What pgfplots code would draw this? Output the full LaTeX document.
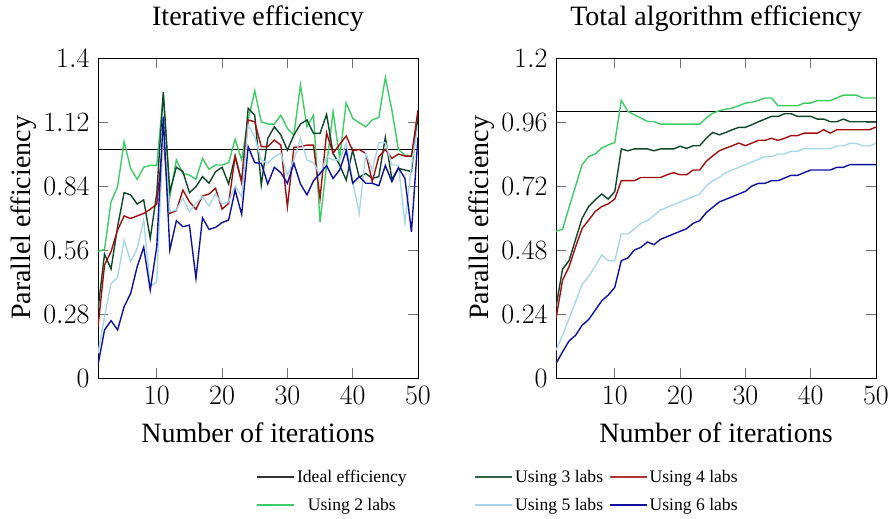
\RequirePackage{fix-cm}
\documentclass[border=0pt]{standalone}
\usepackage[no-math]{fontspec}
\setmainfont{Liberation Serif}
\usepackage{pgfplots}
\usepackage{pgfplotstable}
\pgfplotsset{compat=1.18}

\definecolor{cgreen}{RGB}{60,205,100}
\definecolor{cdkgreen}{RGB}{15,70,40}
\definecolor{cred}{RGB}{160,15,15}
\definecolor{clblue}{RGB}{170,215,232}
\definecolor{cblue}{RGB}{15,15,160}

% per-iteration efficiency
\pgfplotstableread{
x  l2    l3    l4    l5    l6
1  0.553 0.300 0.225 0.108 0.057
2  0.563 0.542 0.494 0.268 0.210
3  0.771 0.477 0.553 0.414 0.251
4  0.837 0.662 0.647 0.440 0.210
5  1.034 0.811 0.709 0.604 0.312
6  0.917 0.801 0.698 0.509 0.370
7  0.869 0.761 0.709 0.567 0.487
8  0.922 0.779 0.720 0.691 0.572
9  0.930 0.611 0.738 0.400 0.385
10 0.930 0.808 0.761 0.421 0.575
11 1.240 1.250 1.050 1.080 1.143
12 0.793 0.815 0.720 0.728 0.560
13 0.954 0.922 0.732 0.735 0.688
14 0.895 0.903 0.822 0.786 0.662
15 0.888 0.811 0.771 0.728 0.669
16 0.869 0.837 0.738 0.764 0.436
17 0.961 0.881 0.796 0.793 0.701
18 0.913 0.852 0.805 0.752 0.650
19 0.932 0.903 0.830 0.805 0.659
20 0.932 0.922 0.739 0.761 0.680
21 0.942 0.849 0.764 0.771 0.691
22 1.044 0.971 0.971 0.840 0.822
23 0.954 0.859 0.855 0.793 0.716
24 1.129 1.180 1.129 1.107 1.012
25 1.257 1.150 1.121 1.056 0.942
26 1.121 0.844 1.012 0.954 0.939
27 1.111 1.048 1.012 0.939 0.849
28 1.111 1.099 1.041 0.968 0.922
29 1.150 1.063 1.019 0.983 0.898
30 1.092 0.997 0.749 0.888 0.852
31 1.063 1.063 1.009 0.954 0.939
32 1.282 1.111 1.012 1.048 0.849
33 1.099 1.129 1.019 0.954 0.801
34 1.150 1.070 1.019 0.942 0.863
35 0.681 1.070 0.786 0.888 0.895
36 0.930 1.153 1.073 0.968 0.929
37 1.165 0.983 0.983 0.954 0.873
38 0.961 0.932 1.022 0.954 0.910
39 1.204 0.866 1.059 1.027 0.994
40 1.136 0.997 0.994 0.859 0.852
41 1.117 0.878 1.000 0.720 0.881
42 1.099 0.895 0.983 0.983 0.852
43 1.129 0.873 0.859 0.910 0.852
44 1.140 0.881 0.968 1.029 0.841
45 1.315 1.053 1.000 1.029 0.930
46 1.172 0.869 0.961 0.932 0.859
47 1.000 0.917 0.980 0.932 0.920
48 0.975 0.910 0.971 0.677 0.873
49 0.968 0.903 0.971 0.930 0.640
50 1.130 1.150 1.172 1.107 1.053
}\iterdata

% cumulative efficiency
\pgfplotstableread{
x  l2    l3    l4    l5    l6
1  0.551 0.267 0.223 0.104 0.054
2  0.557 0.408 0.367 0.160 0.098
3  0.640 0.440 0.417 0.223 0.139
4  0.720 0.520 0.492 0.286 0.160
5  0.800 0.599 0.561 0.351 0.198
6  0.830 0.643 0.592 0.380 0.219
7  0.840 0.668 0.624 0.420 0.254
8  0.862 0.690 0.643 0.461 0.289
9  0.874 0.671 0.653 0.440 0.311
10 0.883 0.699 0.671 0.440 0.340
11 1.041 0.859 0.740 0.540 0.440
12 1.000 0.852 0.740 0.540 0.450
13 0.987 0.859 0.740 0.559 0.480
14 0.975 0.859 0.752 0.580 0.490
15 0.962 0.859 0.752 0.590 0.510
16 0.962 0.852 0.752 0.609 0.500
17 0.952 0.859 0.752 0.630 0.520
18 0.952 0.859 0.762 0.640 0.530
19 0.952 0.859 0.770 0.650 0.540
20 0.952 0.869 0.762 0.660 0.550
21 0.952 0.861 0.762 0.670 0.560
22 0.952 0.871 0.780 0.680 0.580
23 0.952 0.871 0.780 0.690 0.590
24 0.975 0.899 0.812 0.720 0.620
25 0.993 0.921 0.833 0.740 0.640
26 1.002 0.912 0.852 0.752 0.660
27 1.008 0.921 0.862 0.770 0.670
28 1.012 0.931 0.871 0.780 0.680
29 1.021 0.940 0.881 0.790 0.690
30 1.031 0.940 0.871 0.800 0.700
31 1.034 0.950 0.881 0.810 0.720
32 1.041 0.961 0.891 0.820 0.730
33 1.050 0.971 0.891 0.830 0.730
34 1.050 0.981 0.899 0.830 0.740
35 1.021 0.981 0.891 0.840 0.740
36 1.021 0.991 0.899 0.840 0.750
37 1.021 0.991 0.909 0.850 0.760
38 1.021 0.981 0.909 0.850 0.760
39 1.031 0.981 0.918 0.860 0.770
40 1.031 0.981 0.918 0.860 0.780
41 1.040 0.971 0.918 0.860 0.780
42 1.040 0.971 0.931 0.860 0.780
43 1.040 0.961 0.918 0.860 0.780
44 1.050 0.961 0.931 0.870 0.790
45 1.061 0.971 0.931 0.870 0.790
46 1.061 0.961 0.931 0.880 0.800
47 1.061 0.961 0.931 0.880 0.800
48 1.050 0.961 0.931 0.870 0.800
49 1.050 0.961 0.931 0.870 0.800
50 1.050 0.961 0.941 0.880 0.800
}\totaldata

\pgfplotsset{
  eff/.style={
    scale only axis, width=320bp, height=320bp,
    xmin=1, xmax=50, ymin=0,
    xtick={10,20,30,40,50},
    tick label style={font=\fontsize{28bp}{34bp}\selectfont},
    xticklabel style={yshift=-5bp},
    yticklabel style={xshift=-5bp},
    label style={font=\fontsize{28bp}{34bp}\selectfont},
    xlabel style={yshift=-11bp},
    title style={font=\fontsize{28bp}{34bp}\selectfont, yshift=17bp},
    major tick length=10bp,
    tick style={black!55, line width=0.9bp},
    axis line style={line width=0.9bp},
    xlabel={Number of iterations},
    ylabel={Parallel efficiency},
    every axis plot/.append style={line width=1.4bp},
  }
}

\begin{document}
\begin{tikzpicture}
\begin{axis}[eff, at={(0bp,0bp)}, anchor=south west,
    ymax=1.4, ytick={0,0.28,0.56,0.84,1.12,1.4},
    title={Iterative efficiency}]
  \addplot[black, forget plot] coordinates {(1,1) (50,1)};
  \addplot[cgreen, forget plot] table[x=x, y=l2] {\iterdata};
  \addplot[cdkgreen, forget plot] table[x=x, y=l3] {\iterdata};
  \addplot[cred, forget plot] table[x=x, y=l4] {\iterdata};
  \addplot[clblue, forget plot] table[x=x, y=l5] {\iterdata};
  \addplot[cblue, forget plot] table[x=x, y=l6] {\iterdata};
\end{axis}
\begin{axis}[eff, at={(458bp,0bp)}, anchor=south west,
    ymax=1.2, ytick={0,0.24,0.48,0.72,0.96,1.2},
    title={Total algorithm efficiency},
    legend columns=3,
    legend cell align=center,
    legend image code/.code={\draw[#1] (0bp,0bp) -- (37bp,0bp);},
    legend style={draw=none, fill=none, at={(-0.181,-0.353)}, anchor=center,
      font=\fontsize{17.6bp}{21bp}\selectfont,
      /tikz/row sep=10bp,
      /tikz/column 2/.style={column sep=66bp},
      /tikz/column 4/.style={column sep=4bp}}]
  \addplot[black, forget plot] coordinates {(1,1) (50,1)};
  \addplot[cgreen, forget plot] table[x=x, y=l2] {\totaldata};
  \addplot[cdkgreen, forget plot] table[x=x, y=l3] {\totaldata};
  \addplot[cred, forget plot] table[x=x, y=l4] {\totaldata};
  \addplot[clblue, forget plot] table[x=x, y=l5] {\totaldata};
  \addplot[cblue, forget plot] table[x=x, y=l6] {\totaldata};
  \addlegendimage{black!80, line width=1.5bp}
  \addlegendentry{Ideal efficiency}
  \addlegendimage{cdkgreen!85, line width=1.5bp}
  \addlegendentry{Using 3 labs}
  \addlegendimage{cred!85, line width=1.5bp}
  \addlegendentry{Using 4 labs}
  \addlegendimage{cgreen, line width=1.5bp}
  \addlegendentry{Using 2 labs}
  \addlegendimage{clblue, line width=1.5bp}
  \addlegendentry{Using 5 labs}
  \addlegendimage{cblue, line width=1.5bp}
  \addlegendentry{Using 6 labs}
\end{axis}
\pgfresetboundingbox
\path[use as bounding box] (-98bp,-141bp) rectangle (793bp,378bp);
\end{tikzpicture}
\end{document}
